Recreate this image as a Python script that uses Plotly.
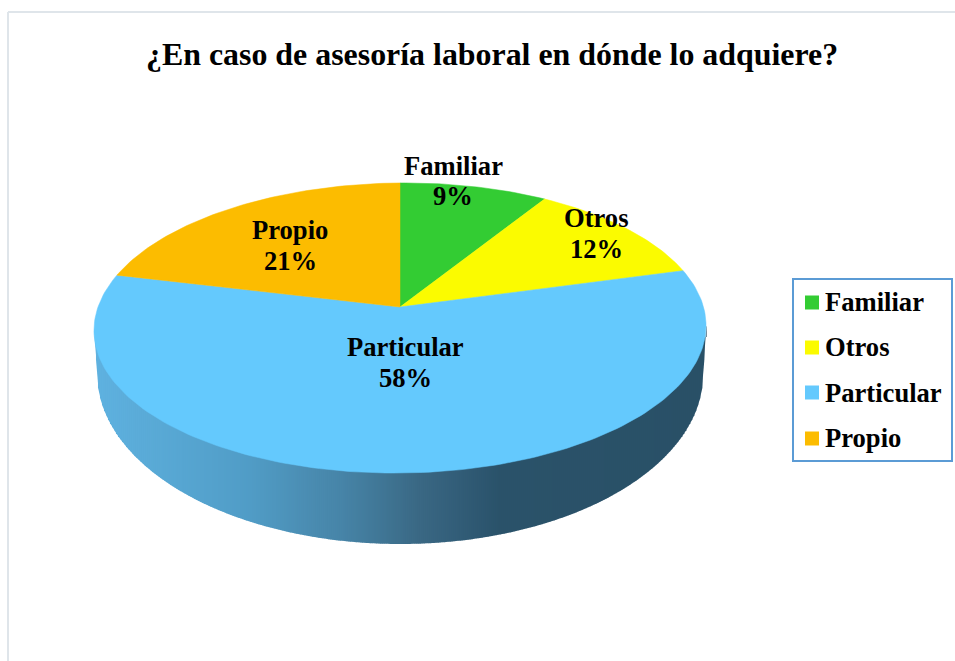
import math
import numpy as np
import plotly.graph_objects as go

# ---- data ----
title = "¿En caso de asesoría laboral en dónde lo adquiere?"
categories = ["Familiar", "Otros", "Particular", "Propio"]
percentages = [9, 12, 58, 21]

# ---- style / layout ----
colors = ["#33CC33", "#FBFB00", "#64C9FD", "#FCBC00"]
FONT = "Liberation Serif"
CX, CY, R, B, K = 400.0, 307.0, 302.8, 142.0, -0.1448
SKEW = -0.008
BOT_A, BOT_H, BOT_CY = 303.0, 170.0, 374.0
label_pos = {"Familiar": (453, 165.5), "Otros": (596.5, 218), "Particular": (405, 347), "Propio": (290, 230)}
LABEL_GAP = 30.5
legend_box = (793, 279, 952, 461)
legend_swatch_y = [302.5, 347.5, 392.5, 438.5]
legend_text_y = [302, 347, 392.5, 438]
side_stops = [(94, (0x5F, 0xB2, 0xE0)), (250, (0x50, 0x9C, 0xC6)), (340, (0x47, 0x85, 0xA8)),
              (420, (0x3A, 0x68, 0x84)), (500, (0x2A, 0x52, 0x6A)), (706, (0x29, 0x50, 0x67))]


def project(t):
    u, v = math.sin(t), -math.cos(t)
    d = 1 + K * v
    x = CX + R * u / d
    return x, CY + B * v / d + SKEW * (x - CX)


def side_color(x):
    for (x0, c0), (x1, c1) in zip(side_stops, side_stops[1:]):
        if x <= x1:
            f = max(0.0, (x - x0) / (x1 - x0))
            return "rgb(%d,%d,%d)" % tuple(round(a + (b - a) * f) for a, b in zip(c0, c1))
    return "rgb(%d,%d,%d)" % side_stops[-1][1]


fig = go.Figure()

# front wall of the pie: lower silhouette, cut into vertical strips for the horizontal shading
angles = [2 * math.pi * i / 720 for i in range(720)]
top_pts = [project(a) for a in angles]
top_left = min(top_pts)
top_right = max(top_pts)
front = sorted((CX + BOT_A * math.sin(a), BOT_CY - BOT_H * math.cos(a)) for a in angles if math.cos(a) < 0)
sil = [top_left] + front + [top_right]
sil_x = [p[0] for p in sil]
sil_y = [p[1] for p in sil]
xs_grid = np.arange(top_left[0], top_right[0], 2.0).tolist() + [top_right[0]]
for x0, x1 in zip(xs_grid, xs_grid[1:]):
    y0, y1 = float(np.interp(x0, sil_x, sil_y)), float(np.interp(x1, sil_x, sil_y))
    col = side_color((x0 + x1) / 2)
    fig.add_trace(go.Scatter(x=[x0, x1 + 0.4, x1 + 0.4, x0, x0], y=[CY + 30, CY + 30, y1, y0, CY + 30],
                             mode="lines", fill="toself", fillcolor=col, line=dict(width=0),
                             hoverinfo="skip", showlegend=False))

# top face slices, from the values
total = sum(percentages)
cum = 0.0
for name, val, col in zip(categories, percentages, colors):
    a0 = 2 * math.pi * cum / total
    a1 = 2 * math.pi * (cum + val) / total
    cum += val
    n = max(8, int(val * 3))
    pts = [project(a0 + (a1 - a0) * j / n) for j in range(n + 1)]
    xs = [CX] + [p[0] for p in pts] + [CX]
    ys = [CY] + [p[1] for p in pts] + [CY]
    fig.add_trace(go.Scatter(x=xs, y=ys, mode="lines", fill="toself", fillcolor=col, name=name,
                             line=dict(color=col, width=0.5), hoverinfo="name", showlegend=False))

# legend swatches
fig.add_trace(go.Scatter(x=[812] * len(categories), y=legend_swatch_y, mode="markers",
                         marker=dict(symbol="square", size=14, color=colors, line=dict(width=0)),
                         hoverinfo="skip", showlegend=False))

ann = []
def text(x, y, s, size=26.6, xanchor="center"):
    ann.append(dict(x=x, y=y, text=s, xref="x", yref="y", showarrow=False, xanchor=xanchor, yanchor="middle",
                    font=dict(family=FONT, size=size, color="#000000"), borderpad=0))

text(491.5, 54.5, "<b>%s</b>" % title, size=31.9)
for name, val in zip(categories, percentages):
    lx, ly = label_pos[name]
    text(lx, ly, "<b>%s</b>" % name)
    text(lx, ly + LABEL_GAP, "<b>%d%%</b>" % val)
for name, ly in zip(categories, legend_text_y):
    text(823.5, ly, "<b>%s</b>" % name, xanchor="left")

shapes = [
    dict(type="rect", x0=legend_box[0], y0=legend_box[1], x1=legend_box[2], y1=legend_box[3],
         xref="x", yref="y", line=dict(color="#5B9BD5", width=2), fillcolor="rgba(0,0,0,0)"),
    dict(type="line", x0=8, y0=661, x1=8, y1=12, xref="x", yref="y", line=dict(color="#DFE5EA", width=2)),
    dict(type="line", x0=8, y0=12, x1=955, y1=12, xref="x", yref="y", line=dict(color="#DFE5EA", width=2)),
]

fig.update_layout(
    width=955, height=661, margin=dict(l=0, r=0, t=0, b=0, pad=0),
    paper_bgcolor="#FFFFFF", plot_bgcolor="#FFFFFF", showlegend=False,
    xaxis=dict(range=[0, 955], visible=False, fixedrange=True),
    yaxis=dict(range=[661, 0], visible=False, fixedrange=True),
    annotations=ann, shapes=shapes,
)
fig.write_html("out.html", post_script="document.body.style.margin='0';document.body.style.overflow='hidden';",
               config={"displayModeBar": False})
